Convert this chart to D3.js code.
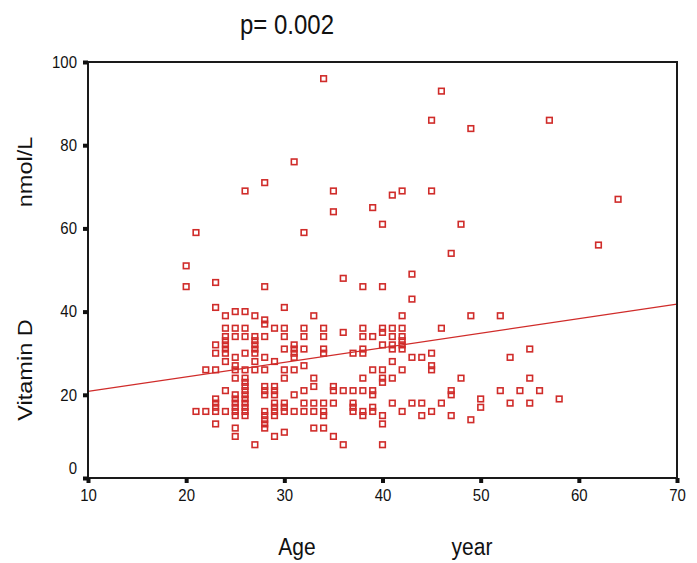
<!DOCTYPE html>
<html>
<head>
<meta charset="utf-8">
<script src="https://cdn.jsdelivr.net/npm/d3@7/dist/d3.min.js"></script>
<style>
  html, body { margin: 0; padding: 0; background: #fff; }
  svg { display: block; font-family: "Liberation Sans", Arial, sans-serif; }
</style>
</head>
<body>
<svg id="chart" width="697" height="563"></svg>
<script>
// ---- data ----
const chartTitle = "p= 0.002";
const xTicks = [10, 20, 30, 40, 50, 60, 70];
const yTicks = [0, 20, 40, 60, 80, 100];
const ages = [20,21,22,23,24,25,26,27,28,29,30,31,32,33,34,35,36,37,38,39,40,41,42,43,44,45,46,47,48,49,50,52,53,54,55,56,57,58,62,64];
const vitaminD = [
  [51,46],
  [59,16],
  [26,16],
  [47,41,32,30,26,19,18,17,16,13],
  [39,36,34,33,32,31,30,28,21,16],
  [40,36,34,29,27,26,24,20,19,18,17,16,15,12,10],
  [69,40,36,34,30,26,24,23,22,21,20,19,18,17,16,15],
  [39,34,33,32,31,30,28,26,8],
  [71,46,38,37,34,29,26,22,21,20,16,15,14,13,12],
  [36,28,22,21,20,18,17,16,15,10],
  [41,36,34,31,26,24,18,17,16,11],
  [76,32,31,30,29,26,20,16],
  [59,36,34,31,27,21,18,16],
  [39,24,22,18,16,12],
  [96,36,34,31,30,18,16,15,12],
  [69,64,22,21,18,10],
  [48,35,21,8],
  [30,21,18,17,16],
  [46,36,34,31,30,24,21,16,15],
  [65,34,26,21,20,17,16],
  [61,46,36,35,32,26,24,23,15,13,8],
  [68,36,34,32,31,28,24,18],
  [69,39,36,34,33,32,31,26,16],
  [49,43,29,18],
  [29,18,15],
  [86,69,30,27,26,16],
  [93,36,18],
  [54,21,20,15],
  [61,24],
  [84,39,14],
  [19,17],
  [39,21],
  [29,18],
  [21],
  [31,24,18],
  [21],
  [86],
  [19],
  [56],
  [67]
];
const fitX = [10, 70];
const fitY = [20.8, 41.8];

// ---- layout ----
const svg = d3.select("#chart");
const pLeft = 88, pRight = 677, pTop = 62, pBottom = 478;
const x = d3.scaleLinear().domain([10, 70]).range([pLeft, pRight]);
const y = d3.scaleLinear().domain([0, 100]).range([pBottom, pTop]);
const red = "#d02c2a";
const stretch = 1.12; // the reference text is slightly taller than wide

const points = [];
ages.forEach((a, i) => vitaminD[i].forEach(v => points.push({age: a, v: v})));

// title
svg.append("text").attr("transform", `translate(287,34) scale(1,${stretch})`)
  .attr("text-anchor", "middle").attr("font-size", 24).attr("fill", "#111")
  .text(chartTitle);

// points
const s = 5.6;
svg.append("g").selectAll("rect").data(points).join("rect")
  .attr("x", d => x(d.age) - s / 2)
  .attr("y", d => y(d.v) - s / 2)
  .attr("width", s).attr("height", s)
  .attr("fill", "none").attr("stroke", red).attr("stroke-width", 1.6);

// regression line
svg.append("line")
  .attr("x1", x(fitX[0])).attr("y1", y(fitY[0]))
  .attr("x2", x(fitX[1])).attr("y2", y(fitY[1]))
  .attr("stroke", red).attr("stroke-width", 1.3);

// frame
svg.append("rect").attr("x", pLeft).attr("y", pTop)
  .attr("width", pRight - pLeft).attr("height", pBottom - pTop)
  .attr("fill", "none").attr("stroke", "#1a1a1a").attr("stroke-width", 2);

// axes
const xAxis = svg.append("g").attr("transform", `translate(0,${pBottom})`)
  .call(d3.axisBottom(x).tickValues(xTicks).tickSizeInner(5).tickSizeOuter(0).tickPadding(5));
const yAxis = svg.append("g").attr("transform", `translate(${pLeft},0)`)
  .call(d3.axisLeft(y).tickValues(yTicks).tickSizeInner(5).tickSizeOuter(0).tickPadding(6));
[xAxis, yAxis].forEach(g => {
  g.select(".domain").remove();
  g.selectAll(".tick line").attr("stroke", "#111").attr("stroke-width", 4);
  g.selectAll(".tick text").attr("font-size", 15).attr("fill", "#111")
    .attr("transform", `scale(1,${stretch})`)
    .attr("font-family", "'Liberation Sans', Arial, sans-serif");
});
yAxis.selectAll(".tick").filter(d => d === 0).select("text").attr("dy", "-0.28em");

// axis titles
svg.append("text").attr("transform", `translate(297,555) scale(1,${stretch})`).attr("text-anchor", "middle")
  .attr("font-size", 21).attr("fill", "#111").text("Age");
svg.append("text").attr("transform", `translate(472,555) scale(1,${stretch})`).attr("text-anchor", "middle")
  .attr("font-size", 21).attr("fill", "#111").text("year");
svg.append("text").attr("transform", `translate(32,370) scale(1,${stretch}) rotate(-90)`).attr("text-anchor", "middle")
  .attr("font-size", 21).attr("fill", "#111").text("Vitamin D");
svg.append("text").attr("transform", `translate(32,172) scale(1,${stretch}) rotate(-90)`).attr("text-anchor", "middle")
  .attr("font-size", 21).attr("fill", "#111").text("nmol/L");
</script>
</body>
</html>
